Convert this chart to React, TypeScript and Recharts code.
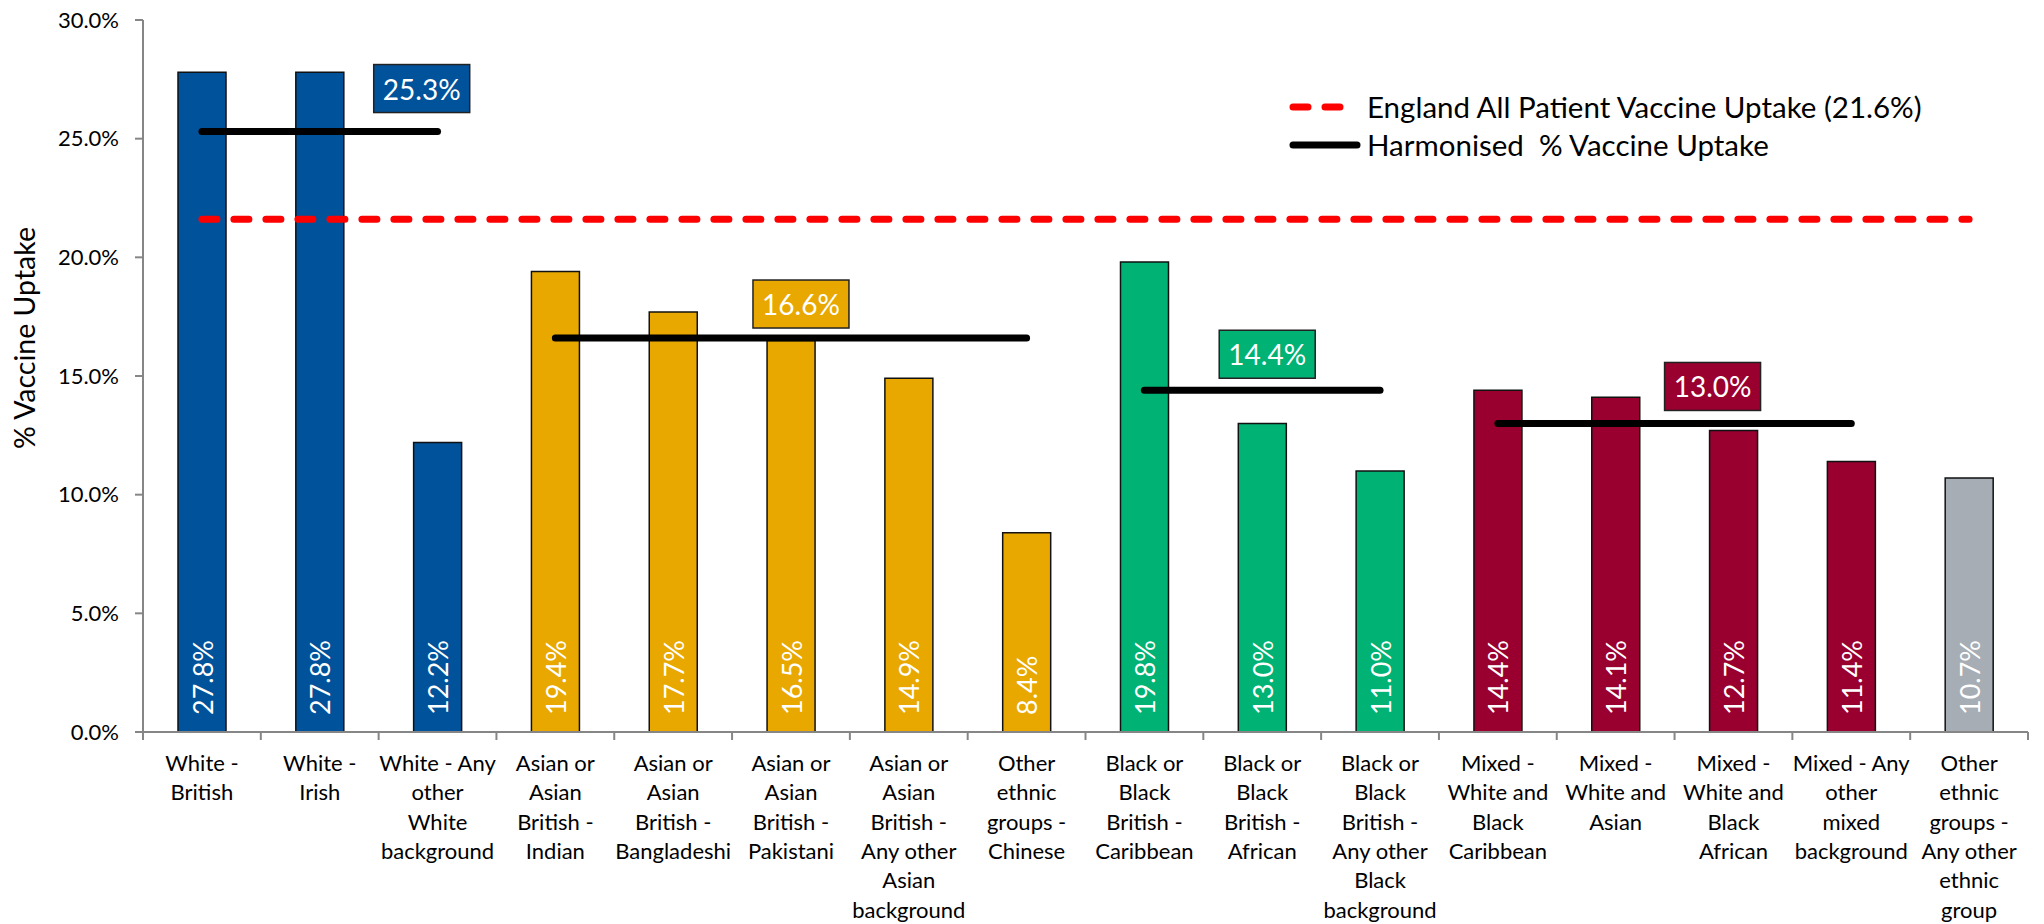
import { BarChart, Bar, XAxis, YAxis, Cell, LabelList, ReferenceLine } from "recharts";

const CATEGORIES = [
  "White - British",
  "White - Irish",
  "White - Any other White background",
  "Asian or Asian British - Indian",
  "Asian or Asian British - Bangladeshi",
  "Asian or Asian British - Pakistani",
  "Asian or Asian British - Any other Asian background",
  "Other ethnic groups - Chinese",
  "Black or Black British - Caribbean",
  "Black or Black British - African",
  "Black or Black British - Any other Black background",
  "Mixed - White and Black Caribbean",
  "Mixed - White and Asian",
  "Mixed - White and Black African",
  "Mixed - Any other mixed background",
  "Other ethnic groups - Any other ethnic group",
];

const TICK_LINES = [
  ["White -", "British"],
  ["White -", "Irish"],
  ["White - Any", "other", "White", "background"],
  ["Asian or", "Asian", "British -", "Indian"],
  ["Asian or", "Asian", "British -", "Bangladeshi"],
  ["Asian or", "Asian", "British -", "Pakistani"],
  ["Asian or", "Asian", "British -", "Any other", "Asian", "background"],
  ["Other", "ethnic", "groups -", "Chinese"],
  ["Black or", "Black", "British -", "Caribbean"],
  ["Black or", "Black", "British -", "African"],
  ["Black or", "Black", "British -", "Any other", "Black", "background"],
  ["Mixed -", "White and", "Black", "Caribbean"],
  ["Mixed -", "White and", "Asian"],
  ["Mixed -", "White and", "Black", "African"],
  ["Mixed - Any", "other", "mixed", "background"],
  ["Other", "ethnic", "groups -", "Any other", "ethnic", "group"],
];

const UPTAKE = [27.8, 27.8, 12.2, 19.4, 17.7, 16.5, 14.9, 8.4, 19.8, 13.0, 11.0, 14.4, 14.1, 12.7, 11.4, 10.7];

const GROUP_OF = [
  "white", "white", "white",
  "asian", "asian", "asian", "asian", "asian",
  "black", "black", "black",
  "mixed", "mixed", "mixed", "mixed",
  "other",
];

const GROUP_COLORS: Record<string, string> = {
  white: "#00529B",
  asian: "#E8A800",
  black: "#00B274",
  mixed: "#990030",
  other: "#A6ADB4",
};

const HARMONISED_GROUPS = ["white", "asian", "black", "mixed"];
const HARMONISED_VALUES = [25.3, 16.6, 14.4, 13.0];
const ENGLAND_UPTAKE = 21.6;

const Y_TICKS = [0, 5, 10, 15, 20, 25, 30];
const LEGEND_LABELS = ["England All Patient Vaccine Uptake (21.6%)", "Harmonised  % Vaccine Uptake"];

// where the value boxes sit relative to the middle of each harmonised segment
const BOX_OFFSETS = [
  { dx: 102, dy: 19 },
  { dx: 10, dy: 10 },
  { dx: 5, dy: 12 },
  { dx: 38, dy: 13 },
];

const FONT = "Lato, 'Open Sans', sans-serif";
const PLOT_LEFT = 143;
const PLOT_RIGHT = 2028;
const BAND = (PLOT_RIGHT - PLOT_LEFT) / CATEGORIES.length;
const AXIS_GRAY = "#868686";

const data = CATEGORIES.map((name, i) => ({ name, value: UPTAKE[i], group: GROUP_OF[i] }));

function XTick(props: any) {
  const { x, y, index } = props;
  const lines = TICK_LINES[index] || [];
  const left = x - BAND / 2;
  return (
    <g>
      <line x1={left} x2={left} y1={y} y2={y + 8} stroke={AXIS_GRAY} strokeWidth={2} />
      {index === CATEGORIES.length - 1 && (
        <line x1={left + BAND} x2={left + BAND} y1={y} y2={y + 8} stroke={AXIS_GRAY} strokeWidth={2} />
      )}
      <text x={x} y={y + 39} textAnchor="middle" fontSize={22} fontFamily={FONT} fill="#000">
        {lines.map((l, i) => (
          <tspan key={i} x={x} dy={i === 0 ? 0 : 29.3}>
            {l}
          </tspan>
        ))}
      </text>
    </g>
  );
}

function BarValue(props: any) {
  const { x, y, width, height, value } = props;
  const cx = x + width / 2;
  const by = y + height - 17;
  return (
    <text
      x={cx}
      y={by}
      transform={`rotate(-90 ${cx} ${by})`}
      textAnchor="start"
      dominantBaseline="central"
      fontSize={27}
      fontFamily={FONT}
      fill="#fff"
    >
      {`${Number(value).toFixed(1)}%`}
    </text>
  );
}

function makeBox(i: number) {
  return (props: any) => {
    const vb = props.viewBox || {};
    const w = 96;
    const h = 48;
    const cx = vb.x + vb.width / 2 + BOX_OFFSETS[i].dx;
    const bottom = vb.y - BOX_OFFSETS[i].dy;
    return (
      <g>
        <rect x={cx - w / 2} y={bottom - h} width={w} height={h} fill={GROUP_COLORS[HARMONISED_GROUPS[i]]} stroke="#222" strokeWidth={1.5} />
        <text x={cx} y={bottom - h / 2} textAnchor="middle" dominantBaseline="central" fontSize={28} fontFamily={FONT} fill="#fff">
          {`${HARMONISED_VALUES[i].toFixed(1)}%`}
        </text>
      </g>
    );
  };
}

export default function App() {
  const segments = HARMONISED_GROUPS.map((g, i) => {
    const first = GROUP_OF.indexOf(g);
    const last = GROUP_OF.lastIndexOf(g);
    return { first: CATEGORIES[first], last: CATEGORIES[last], value: HARMONISED_VALUES[i] };
  });

  return (
    <div style={{ position: "absolute", left: 0, top: 0, width: 2044, height: 924, background: "#fff" }}>
      <BarChart
        width={2044}
        height={924}
        data={data}
        margin={{ top: 20, right: 2044 - PLOT_RIGHT, left: PLOT_LEFT - 100, bottom: 12 }}
        barCategoryGap={0}
      >
        <XAxis
          dataKey="name"
          interval={0}
          height={180}
          tickLine={false}
          tickSize={0}
          tickMargin={0}
          axisLine={{ stroke: AXIS_GRAY, strokeWidth: 2 }}
          tick={<XTick />}
        />
        <YAxis
          width={100}
          domain={[0, 30]}
          ticks={Y_TICKS}
          allowDataOverflow
          tickFormatter={(v: number) => `${v.toFixed(1)}%`}
          tickSize={8}
          tickMargin={16}
          axisLine={{ stroke: AXIS_GRAY, strokeWidth: 2 }}
          tickLine={{ stroke: AXIS_GRAY, strokeWidth: 2 }}
          tick={{ fontSize: 22, fontFamily: FONT, fill: "#000" }}
          label={() => (
            <text
              x={35}
              y={338}
              transform="rotate(-90 35 338)"
              textAnchor="middle"
              fontSize={28.5}
              fontFamily={FONT}
              fill="#000"
            >
              % Vaccine Uptake
            </text>
          )}
        />
        <Bar dataKey="value" barSize={48} stroke="#111" strokeWidth={1.5} isAnimationActive={false}>
          {data.map((d, i) => (
            <Cell key={i} fill={GROUP_COLORS[d.group]} />
          ))}
          <LabelList dataKey="value" content={<BarValue />} />
        </Bar>
        {segments.map((s, i) => (
          <ReferenceLine
            key={i}
            segment={[
              { x: s.first, y: s.value },
              { x: s.last, y: s.value },
            ]}
            stroke="#000"
            strokeWidth={7}
            strokeLinecap="round"
            label={makeBox(i)}
            ifOverflow="visible"
          />
        ))}
        <ReferenceLine
          segment={[
            { x: CATEGORIES[0], y: ENGLAND_UPTAKE },
            { x: CATEGORIES[CATEGORIES.length - 1], y: ENGLAND_UPTAKE },
          ]}
          stroke="#FF0000"
          strokeWidth={7}
          strokeDasharray="15 17"
          strokeLinecap="round"
          ifOverflow="visible"
        />
      </BarChart>
      <div
        style={{
          position: "absolute",
          left: 1285,
          top: 88,
          fontFamily: FONT,
          fontSize: 29.5,
          color: "#000",
          lineHeight: "38px",
          whiteSpace: "pre",
        }}
      >
        {LEGEND_LABELS.map((label, i) => (
          <div key={i} style={{ display: "flex", alignItems: "center" }}>
            <svg width={82} height={38} style={{ display: "block" }}>
              <line
                x1={8}
                x2={72}
                y1={19}
                y2={19}
                stroke={i === 0 ? "#FF0000" : "#000"}
                strokeWidth={7}
                strokeLinecap="round"
                strokeDasharray={i === 0 ? "15 17" : undefined}
              />
            </svg>
            <span>{label}</span>
          </div>
        ))}
      </div>
    </div>
  );
}
